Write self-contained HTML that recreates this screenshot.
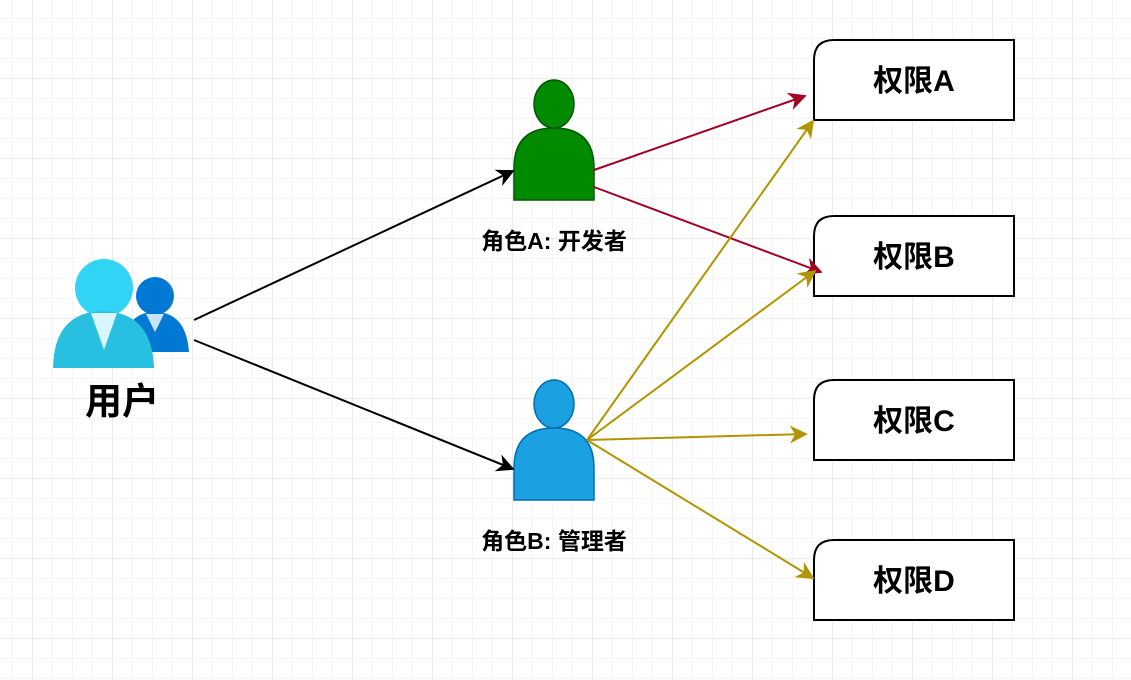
<!DOCTYPE html>
<html><head><meta charset="utf-8"><style>
html,body{margin:0;padding:0;background:#fff;}
svg{display:block;}
text{font-family:"Liberation Sans","Noto Sans CJK SC",sans-serif;font-weight:bold;fill:#000;}
</style></head><body>
<svg width="1131" height="680" viewBox="0 0 1131 680" xmlns="http://www.w3.org/2000/svg">
<defs>
<pattern id="minor" x="12.5" y="18.5" width="20" height="20" patternUnits="userSpaceOnUse">
<path d="M0 0H20M0 0V20" stroke="#ececec" stroke-width="1" fill="none"/>
</pattern>
<pattern id="major" x="32.5" y="78.5" width="80" height="80" patternUnits="userSpaceOnUse">
<path d="M0 0H80M0 0V80" stroke="#d8d8d8" stroke-width="1" fill="none"/>
</pattern>
<marker id="ab" viewBox="0 0 10 10" refX="9" refY="5" markerWidth="9" markerHeight="9" orient="auto"><path d="M0 0L10 5L0 10L3 5Z" fill="#000"/></marker>
<marker id="ar" viewBox="0 0 10 10" refX="9" refY="5" markerWidth="9" markerHeight="9" orient="auto"><path d="M0 0L10 5L0 10L3 5Z" fill="#a20025"/></marker>
<marker id="ag" viewBox="0 0 10 10" refX="9" refY="5" markerWidth="9" markerHeight="9" orient="auto"><path d="M0 0L10 5L0 10L3 5Z" fill="#b09500"/></marker>
</defs>
<rect width="1131" height="680" fill="url(#minor)"/>
<rect width="1131" height="680" fill="url(#major)"/>

<!-- user icon -->
<circle cx="155" cy="296" r="19" fill="#0078d4"/>
<path d="M122 352 Q124 312 155 312 Q186 312 189 352 Z" fill="#0078d4"/>
<path d="M146 314 L164 314 L155 332 Z" fill="#c8e2f7"/>
<circle cx="104" cy="288" r="29" fill="#32d4f5"/>
<path d="M53 368 Q54 312 103 311 Q152 312 154 368 Z" fill="#29bfe0"/>
<path d="M91 313 L117 313 L104 350 Z" fill="#d8f6fd"/>
<text x="122" y="414" font-size="37" text-anchor="middle">用户</text>

<!-- role A -->
<ellipse cx="554" cy="104" rx="20" ry="24" fill="#008a00" stroke="#005700" stroke-width="1.5"/>
<path d="M514 200 L514 168 Q514 128 554 128 Q594 128 594 168 L594 200 Z" fill="#008a00" stroke="#005700" stroke-width="1.5"/>
<text x="554" y="249" font-size="23" text-anchor="middle">角色A: 开发者</text>

<!-- role B -->
<ellipse cx="554" cy="404" rx="20" ry="24" fill="#1ba1e2" stroke="#006eaf" stroke-width="1.5"/>
<path d="M514 500 L514 468 Q514 428 554 428 Q594 428 594 468 L594 500 Z" fill="#1ba1e2" stroke="#006eaf" stroke-width="1.5"/>
<text x="554" y="549" font-size="23" text-anchor="middle">角色B: 管理者</text>

<!-- boxes -->
<g fill="#fff" stroke="#000" stroke-width="2">
<path d="M834 40 H1014 V120 H814 V60 Q814 40 834 40 Z"/>
<path d="M834 216 H1014 V296 H814 V236 Q814 216 834 216 Z"/>
<path d="M834 380 H1014 V460 H814 V400 Q814 380 834 380 Z"/>
<path d="M834 540 H1014 V620 H814 V560 Q814 540 834 540 Z"/>
</g>
<g font-size="30" text-anchor="middle">
<text x="914" y="91">权限A</text>
<text x="914" y="267">权限B</text>
<text x="914" y="431">权限C</text>
<text x="914" y="591">权限D</text>
</g>

<!-- arrows -->
<g stroke-width="2" fill="none">
<line x1="194" y1="320" x2="513" y2="171" stroke="#000" marker-end="url(#ab)"/>
<line x1="194" y1="340" x2="513" y2="469" stroke="#000" marker-end="url(#ab)"/>
<line x1="594" y1="170" x2="805" y2="96" stroke="#a20025" marker-end="url(#ar)"/>
<line x1="594" y1="187" x2="821" y2="272" stroke="#a20025" marker-end="url(#ar)"/>
<line x1="587" y1="440" x2="813" y2="121" stroke="#b09500" marker-end="url(#ag)"/>
<line x1="587" y1="440" x2="815" y2="271" stroke="#b09500" marker-end="url(#ag)"/>
<line x1="587" y1="440" x2="806" y2="434" stroke="#b09500" marker-end="url(#ag)"/>
<line x1="587" y1="440" x2="813" y2="578" stroke="#b09500" marker-end="url(#ag)"/>
</g>
</svg>
</body></html>
